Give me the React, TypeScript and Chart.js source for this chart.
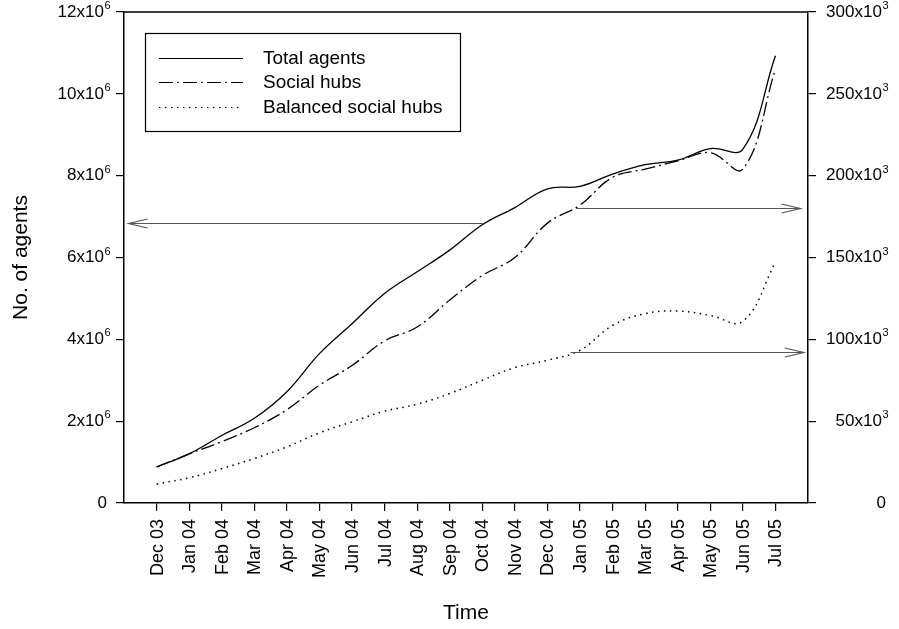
import React, { useEffect, useRef } from "react";
import { Chart, registerables } from "chart.js";

Chart.register(...registerables);

const months = [
  "Dec 03", "Jan 04", "Feb 04", "Mar 04", "Apr 04", "May 04", "Jun 04", "Jul 04",
  "Aug 04", "Sep 04", "Oct 04", "Nov 04", "Dec 04", "Jan 05", "Feb 05", "Mar 05",
  "Apr 05", "May 05", "Jun 05", "Jul 05",
];

// Total agents (left axis, millions)
const totalAgents = [
  0.88, 1.2, 1.65, 2.07, 2.72, 3.65, 4.38, 5.12, 5.65, 6.18, 6.8, 7.22, 7.68, 7.74,
  8.04, 8.27, 8.38, 8.66, 8.65, 10.93,
];
// Social hubs (right axis, thousands)
const socialHubs = [
  22, 30, 37.5, 46, 57, 72, 84, 99, 107.5, 124, 139, 150, 171, 182, 199, 204, 209,
  214, 204, 265,
];
// Balanced social hubs (right axis, thousands)
const balancedHubs = [
  11.6, 15.4, 21, 27.2, 34.3, 42.9, 49.6, 56.1, 60.4, 66.9, 75, 82.7, 87.2, 93.3,
  108.5, 115.7, 117.3, 114.6, 111, 147,
];

const leftTicks = [0, 2, 4, 6, 8, 10, 12];
const rightTicks = [0, 50, 100, 150, 200, 250, 300];

const seriesNames = ["Total agents", "Social hubs", "Balanced social hubs"];

// arrows: [fromX, toX, y, axis]
const arrowFromX = [10.05, 12.88, 12.71];
const arrowToX = [-0.86, 19.77, 19.87];
const arrowY = [6.85e6, 180500, 92000];
const arrowAxis = ["y", "y1", "y1"];

const FONT = "'Liberation Sans', Arial, Helvetica, sans-serif";
const DASH_SOCIAL = [14, 4, 2, 4];
const DASH_BAL = [1.5, 4.5];

function drawSup(ctx: CanvasRenderingContext2D, base: string, sup: string, xRight: number, y: number) {
  ctx.font = `17px ${FONT}`;
  const wb = ctx.measureText(base).width;
  ctx.font = `11px ${FONT}`;
  const ws = sup ? ctx.measureText(sup).width : 0;
  const x0 = xRight - wb - ws;
  ctx.textAlign = "left";
  ctx.textBaseline = "middle";
  ctx.font = `17px ${FONT}`;
  ctx.fillText(base, x0, y);
  if (sup) {
    ctx.font = `11px ${FONT}`;
    ctx.fillText(sup, x0 + wb + 0.5, y - 6);
  }
}

const overlayPlugin = {
  id: "overlay",
  afterDraw(chart: any) {
    const ctx: CanvasRenderingContext2D = chart.ctx;
    const { chartArea, scales } = chart;
    const xs = scales.x, yl = scales.y, yr = scales.y1;
    ctx.save();
    ctx.fillStyle = "#000";
    ctx.strokeStyle = "#000";

    // top frame line
    ctx.lineWidth = 1.5;
    ctx.beginPath();
    ctx.moveTo(chartArea.left, chartArea.top);
    ctx.lineTo(chartArea.right, chartArea.top);
    ctx.stroke();

    // left tick labels
    leftTicks.forEach((v) => {
      const y = yl.getPixelForValue(v * 1e6);
      if (v === 0) drawSup(ctx, "0", "", 107, y);
      else drawSup(ctx, `${v}x10`, "6", 110, y);
    });
    // right tick labels
    rightTicks.forEach((v) => {
      const y = yr.getPixelForValue(v * 1000);
      if (v === 0) drawSup(ctx, "0", "", 886, y);
      else drawSup(ctx, `${v}x10`, "3", 888, y);
    });

    // x tick labels
    ctx.font = `18px ${FONT}`;
    months.forEach((m, i) => {
      const x = xs.getPixelForValue(i);
      ctx.save();
      ctx.translate(x + 1, chartArea.bottom + 16);
      ctx.rotate(-Math.PI / 2);
      ctx.textAlign = "right";
      ctx.textBaseline = "middle";
      ctx.fillText(m, 0, 0);
      ctx.restore();
    });

    // axis titles
    ctx.font = `21px ${FONT}`;
    ctx.textAlign = "center";
    ctx.textBaseline = "middle";
    ctx.fillText("Time", (chartArea.left + chartArea.right) / 2, 613);
    ctx.save();
    ctx.translate(21, (chartArea.top + chartArea.bottom) / 2);
    ctx.rotate(-Math.PI / 2);
    ctx.fillText("No. of agents", 0, 0);
    ctx.restore();

    // arrows
    ctx.strokeStyle = "#555";
    ctx.lineWidth = 1.2;
    arrowFromX.forEach((fx, i) => {
      const sc = arrowAxis[i] === "y" ? yl : yr;
      const y = Math.round(sc.getPixelForValue(arrowY[i])) + 0.5;
      const x1 = xs.getPixelForValue(fx);
      const x2 = xs.getPixelForValue(arrowToX[i]);
      const dir = x2 > x1 ? 1 : -1;
      ctx.beginPath();
      ctx.moveTo(x1, y);
      ctx.lineTo(x2, y);
      ctx.moveTo(x2 - dir * 19, y - 4.5);
      ctx.lineTo(x2, y);
      ctx.lineTo(x2 - dir * 19, y + 4.5);
      ctx.stroke();
    });

    // legend
    ctx.strokeStyle = "#000";
    ctx.lineWidth = 1.2;
    ctx.strokeRect(145.5, 33.5, 315, 98);
    const rows = [58, 82, 107];
    const dashes = [[], DASH_SOCIAL, DASH_BAL];
    ctx.font = `19px ${FONT}`;
    ctx.textAlign = "left";
    ctx.textBaseline = "middle";
    seriesNames.forEach((n, i) => {
      ctx.setLineDash(dashes[i]);
      ctx.beginPath();
      ctx.moveTo(159, rows[i] + 0.5);
      ctx.lineTo(243, rows[i] + 0.5);
      ctx.stroke();
      ctx.setLineDash([]);
      ctx.fillText(n, 263, rows[i] + 1);
    });
    ctx.restore();
  },
};

export default function App() {
  const ref = useRef<HTMLCanvasElement>(null);
  useEffect(() => {
    if (!ref.current) return;
    const toPts = (arr: number[], mul: number) => arr.map((v, i) => ({ x: i, y: v * mul }));
    const chart = new Chart(ref.current, {
      type: "line",
      data: {
        datasets: [
          {
            label: seriesNames[0],
            data: toPts(totalAgents, 1e6),
            yAxisID: "y",
            borderColor: "#000",
            borderWidth: 1.3,
            pointRadius: 0,
            tension: 0.4,
            fill: false,
          },
          {
            label: seriesNames[1],
            data: toPts(socialHubs, 1000),
            yAxisID: "y1",
            borderColor: "#000",
            borderWidth: 1.3,
            borderDash: DASH_SOCIAL,
            pointRadius: 0,
            tension: 0.4,
            fill: false,
          },
          {
            label: seriesNames[2],
            data: toPts(balancedHubs, 1000),
            yAxisID: "y1",
            borderColor: "#000",
            borderWidth: 1.5,
            borderDash: DASH_BAL,
            pointRadius: 0,
            tension: 0.4,
            fill: false,
          },
        ],
      },
      options: {
        responsive: false,
        animation: false,
        devicePixelRatio: 1,
        layout: { padding: { left: 116, right: 83, top: 12, bottom: 118 } },
        plugins: { legend: { display: false }, tooltip: { enabled: false } },
        scales: {
          x: {
            type: "linear",
            min: -1,
            max: 20,
            afterBuildTicks: (s: any) => {
              s.ticks = months.map((_, i) => ({ value: i }));
            },
            afterFit: (s: any) => {
              s.height = 8;
            },
            ticks: { display: false },
            grid: { drawOnChartArea: false, drawTicks: true, tickLength: 8, color: "#000", lineWidth: 1.2 },
            border: { display: true, color: "#000", width: 1.5 },
          },
          y: {
            type: "linear",
            position: "left",
            min: 0,
            max: 12e6,
            afterBuildTicks: (s: any) => {
              s.ticks = leftTicks.map((v) => ({ value: v * 1e6 }));
            },
            afterFit: (s: any) => {
              s.width = 8;
            },
            ticks: { display: false },
            grid: { drawOnChartArea: false, drawTicks: true, tickLength: 8, color: "#000", lineWidth: 1.2 },
            border: { display: true, color: "#000", width: 1.5 },
          },
          y1: {
            type: "linear",
            position: "right",
            min: 0,
            max: 300000,
            afterBuildTicks: (s: any) => {
              s.ticks = rightTicks.map((v) => ({ value: v * 1000 }));
            },
            afterFit: (s: any) => {
              s.width = 8;
            },
            ticks: { display: false },
            grid: { drawOnChartArea: false, drawTicks: true, tickLength: 8, color: "#000", lineWidth: 1.2 },
            border: { display: true, color: "#000", width: 1.5 },
          },
        },
      },
      plugins: [overlayPlugin],
    });
    return () => chart.destroy();
  }, []);
  return (
    <div style={{ position: "absolute", left: 0, top: 0, width: 899, height: 629, background: "#fff" }}>
      <canvas ref={ref} width={899} height={629} style={{ width: 899, height: 629, display: "block" }} />
    </div>
  );
}
